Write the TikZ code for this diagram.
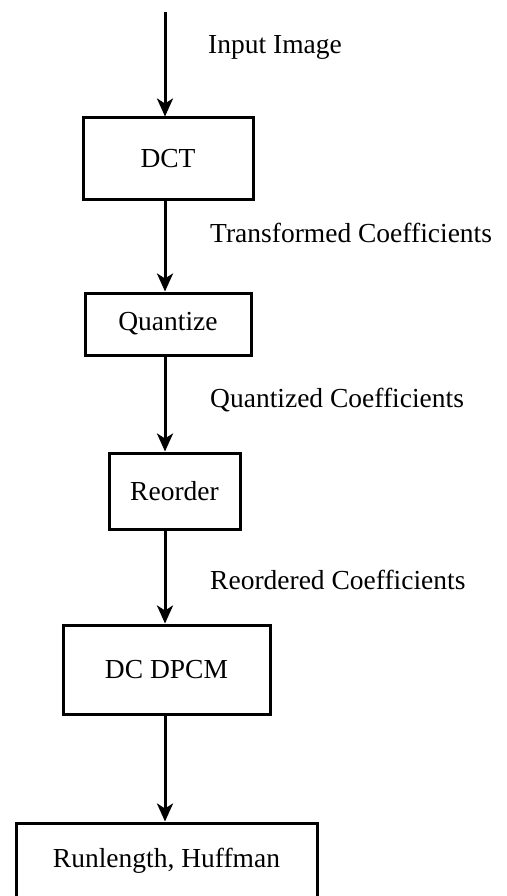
\documentclass[tikz,border=0pt]{standalone}
\usepackage{fontspec}
\setmainfont{Liberation Serif}
\usetikzlibrary{arrows.meta}
\tikzset{
	stage/.style={draw, line width=3pt, inner sep=0pt, font=\fontsize{27.5}{30}\selectfont},
	note/.style={anchor=west, inner sep=0pt, font=\fontsize{27.5}{30}\selectfont},
	flow/.style={line width=3pt, -{Stealth[length=18pt,width=16pt,inset=5pt]}}
}
\begin{document}
\begin{tikzpicture}[x=1pt, y=-1pt, line cap=butt, line join=miter]
		\useasboundingbox (0,0) rectangle (506,896);
		\coordinate (spine) at (165,0);
		\coordinate (src) at (165,12);
		% stages
		\node[stage, minimum width=170pt, minimum height=81pt] (dct) at (168,158.5) {DCT};
		\node[stage, minimum width=166pt, minimum height=62pt] (quant) at (168,324) {Quantize};
		\node[stage, minimum width=131pt, minimum height=76pt] (reord) at (174.5,491) {Reorder};
		\node[stage, minimum width=207pt, minimum height=89pt] (dpcm) at (166.5,669.5) {DC DPCM};
		\node[stage, minimum width=301pt, minimum height=76pt] (runl) at (166.5,861) {Runlength, Huffman};
		% labels
		\node[note] (lin) at (208,47) {Input Image};
		\node[note] (ltr) at (210,233) {Transformed Coefficients};
		\node[note] (lqu) at (210,400) {Quantized Coefficients};
		\node[note] (lre) at (210,580) {Reordered Coefficients};
		% arrows
		\draw[flow] (src) -- (dct.north -| spine);
		\draw[flow] (dct.south -| spine) -- (quant.north -| spine);
		\draw[flow] (quant.south -| spine) -- (reord.north -| spine);
		\draw[flow] (reord.south -| spine) -- (dpcm.north -| spine);
		\draw[flow] (dpcm.south -| spine) -- (runl.north -| spine);
		\end{tikzpicture}
\end{document}
